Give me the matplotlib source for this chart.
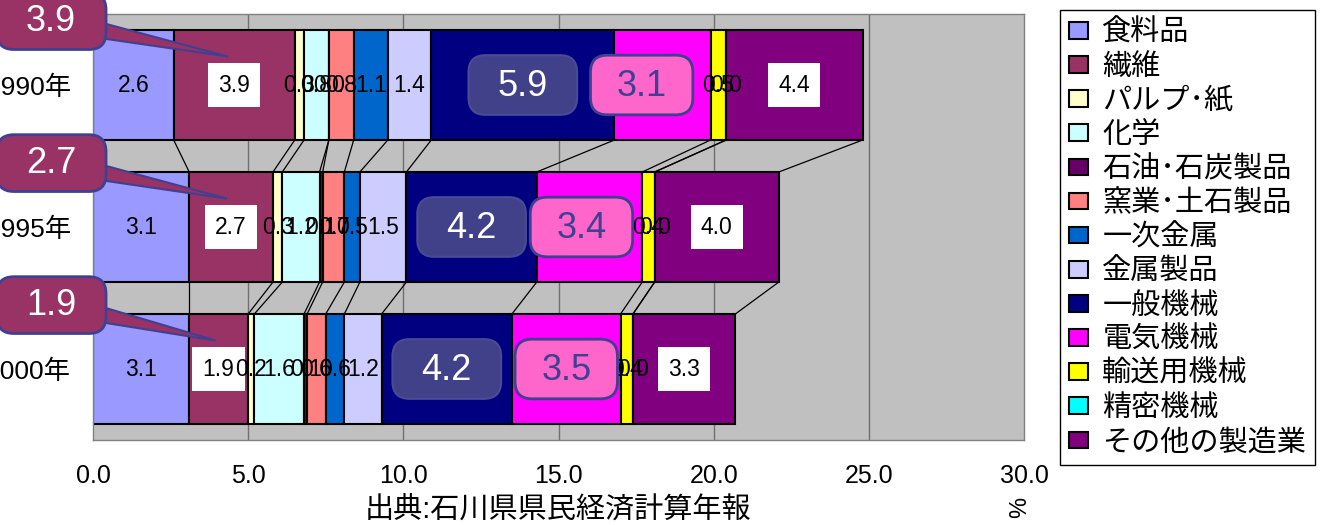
import numpy as np
import matplotlib
matplotlib.use("Agg")
import matplotlib.pyplot as plt
from matplotlib.patches import FancyBboxPatch, Polygon, Patch

plt.rcParams["font.family"] = ["Liberation Sans", "Noto Sans CJK JP"]
plt.rcParams["axes.unicode_minus"] = False

# data (構成比 %)
years = ["1990年", "1995年", "2000年"]
industries = ["食料品", "繊維", "パルプ･紙", "化学", "石油･石炭製品", "窯業･土石製品",
              "一次金属", "金属製品", "一般機械", "電気機械", "輸送用機械", "精密機械",
              "その他の製造業"]
v1990 = [2.6, 3.9, 0.3, 0.8, 0.0, 0.8, 1.1, 1.4, 5.9, 3.1, 0.5, 0.0, 4.4]
v1995 = [3.1, 2.7, 0.3, 1.2, 0.1, 0.7, 0.5, 1.5, 4.2, 3.4, 0.4, 0.0, 4.0]
v2000 = [3.1, 1.9, 0.2, 1.6, 0.1, 0.6, 0.6, 1.2, 4.2, 3.5, 0.4, 0.0, 3.3]
colors = ["#9999FF", "#993366", "#FFFFCC", "#CCFFFF", "#660066", "#FF8080",
          "#0066CC", "#CCCCFF", "#000080", "#FF00FF", "#FFFF00", "#00FFFF",
          "#800080"]

rows = [v1990, v1995, v2000]
TEX, GEN, ELEC, OTHER = 1, 8, 9, 12
elec_shift = [-0.67, -0.26, 0.0]
bar_h = 0.775

W, H = 1333, 525
fig = plt.figure(figsize=(W / 100, H / 100), dpi=100)
ax = fig.add_axes([93 / W, 1 - 440 / H, (1024 - 93) / W, (440 - 14) / H])
ax.set_facecolor("#C0C0C0")
ax.set_xlim(0, 30)
ax.set_ylim(2.5, -0.5)
aspect = (3.0 / 426) / (30.0 / 931)  # y-units per px / x-units per px

for x in range(5, 30, 5):
    ax.axvline(x, color="#707070", lw=1, zorder=0.5)

cums = [np.concatenate([[0], np.cumsum(r)]) for r in rows]

# series lines between bars
for i in range(len(rows) - 1):
    for a, b in zip(cums[i], cums[i + 1]):
        ax.plot([a, b], [i + bar_h / 2, i + 1 - bar_h / 2], color="black", lw=0.9, zorder=1)

for i, vals in enumerate(rows):
    left = cums[i][:-1]
    ax.barh(i, vals, left=left, height=bar_h, color=colors, edgecolor="black",
            linewidth=1.5, zorder=2)
    for k, v in enumerate(vals):
        cx = left[k] + v / 2
        if k in (GEN, ELEC):
            continue
        if k in (TEX, OTHER):
            ax.text(cx, i, f"{v:.1f}", ha="center", va="center", fontsize=16.5, zorder=3,
                    bbox=dict(boxstyle="square,pad=0.45", fc="white", ec="none"))
        else:
            ax.text(cx, i, f"{v:.1f}", ha="center", va="center", fontsize=16.5, zorder=3)

    # 一般機械 box
    gx = left[GEN] + vals[GEN] / 2
    bw, bh = 3.5, 0.42
    ax.add_patch(FancyBboxPatch((gx - bw / 2, i - bh / 2), bw, bh,
                                boxstyle="round,pad=0,rounding_size=0.55",
                                mutation_aspect=aspect, fc="#414189", ec="#4a4a96",
                                lw=1.5, zorder=4))
    ax.text(gx, i + 0.01, f"{vals[GEN]:.1f}", ha="center", va="center", fontsize=26,
            color="white", zorder=5)

    # 電気機械 box
    ex = left[ELEC] + vals[ELEC] / 2 + elec_shift[i]
    bw = 3.3
    ax.add_patch(FancyBboxPatch((ex - bw / 2, i - bh / 2), bw, bh,
                                boxstyle="round,pad=0,rounding_size=0.55",
                                mutation_aspect=aspect, fc="#FF66CC", ec="#404090",
                                lw=2, zorder=4))
    ax.text(ex, i + 0.01, f"{vals[ELEC]:.1f}", ha="center", va="center", fontsize=26,
            color="#404090", zorder=5)

    # 繊維 callout on the left
    yc = i - 0.45
    tip_x = left[TEX] + 0.45 * vals[TEX]
    ax.add_patch(Polygon([(0.25, yc + 0.01), (tip_x, i - 0.2), (0.25, yc + 0.12)],
                         closed=True, fc="#993366", ec="#404090", lw=1.5,
                         clip_on=False, zorder=6))
    ax.add_patch(FancyBboxPatch((-3.1, yc - 0.2), 3.52, 0.4,
                                boxstyle="round,pad=0,rounding_size=0.55",
                                mutation_aspect=aspect, fc="#993366", ec="#404090",
                                lw=2, clip_on=False, zorder=7))
    ax.text(-1.35, yc, f"{vals[TEX]:.1f}", ha="center", va="center", fontsize=26,
            color="white", zorder=8, clip_on=False)

ax.set_yticks(range(len(years)))
ax.set_yticklabels(years, fontsize=19)
ax.tick_params(axis="y", length=0, pad=16)
xt = np.arange(0, 31, 5)
ax.set_xticks(xt)
ax.set_xticklabels([f"{v:.1f}" for v in xt], fontsize=18)
ax.tick_params(axis="x", length=0, pad=17)
ax.set_xlabel("出典:石川県県民経済計算年報", fontsize=21, labelpad=6)
for s in ax.spines.values():
    s.set_color("#808080")
    s.set_linewidth(1)

fig.text(1020 / W, 1 - 507 / H, "%", rotation=90, fontsize=17, ha="center", va="center")

handles = [Patch(fc=c, ec="black", lw=1.5) for c in colors]
fig.legend(handles, industries, loc="upper left", bbox_to_anchor=(1060 / W, 1 - 10 / H),
           fontsize=21, frameon=True, fancybox=False, edgecolor="black", framealpha=1,
           handlelength=0.65, handleheight=0.5, handletextpad=0.5, labelspacing=0.21,
           borderpad=0.3, borderaxespad=0)

fig.savefig("out.png", dpi=100)
